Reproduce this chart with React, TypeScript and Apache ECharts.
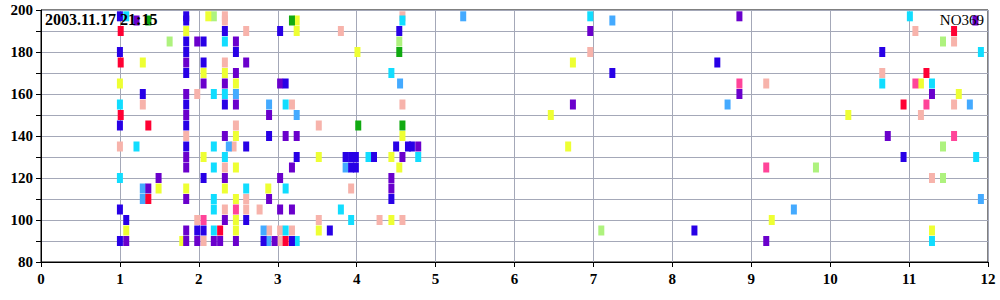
import React, { useEffect, useRef } from "react";
import * as echarts from "echarts";

const xTicks = [0, 1, 2, 3, 4, 5, 6, 7, 8, 9, 10, 11, 12];
const yLabelValues = [80, 100, 120, 140, 160, 180, 200];
const titleLeft = "2003.11.17 21:15";
const titleRight = "NO369";

const blueData = [
  [1.0, 197], [1.0, 180], [1.29, 160], [1.0, 145], [1.84, 197], [1.84, 195], [1.84, 185], [1.84, 180],
  [1.84, 170], [1.84, 155], [1.84, 145], [1.84, 135], [2.06, 185], [2.06, 175], [2.33, 190], [2.33, 155],
  [2.47, 180], [2.6, 135], [2.89, 140], [3.03, 190], [3.1, 165], [3.24, 130], [2.06, 120], [1.0, 105],
  [1.08, 100], [2.6, 100], [1.0, 90], [1.98, 95], [2.06, 95], [2.82, 90], [3.18, 90], [4.54, 190],
  [3.66, 95], [4.5, 135], [4.65, 135], [4.7, 135], [3.86, 130], [3.93, 130], [3.99, 130], [3.93, 125],
  [3.99, 125], [4.22, 130], [4.44, 110], [8.57, 175], [7.24, 170], [8.28, 95], [10.66, 180], [10.93, 130],
];
const purpleData = [
  [1.21, 195], [1.84, 175], [1.84, 160], [1.84, 150], [1.98, 185], [2.06, 165], [2.33, 165], [2.47, 185],
  [2.6, 175], [2.47, 170], [2.47, 155], [2.33, 140], [2.89, 150], [3.03, 165], [3.1, 140], [3.24, 140],
  [1.84, 130], [1.84, 125], [3.18, 125], [2.33, 120], [1.49, 120], [3.03, 120], [1.36, 115], [1.84, 110],
  [2.89, 110], [3.03, 105], [3.18, 105], [2.33, 100], [1.84, 95], [1.84, 90], [1.08, 90], [1.98, 90],
  [2.19, 90], [2.27, 90], [2.47, 90], [2.96, 90], [4.58, 130], [4.44, 120], [4.44, 115], [4.78, 135],
  [6.96, 190], [8.85, 197], [6.74, 155], [8.85, 160], [9.19, 90], [11.29, 160], [10.73, 140], [11.84, 195],
];
const cyanData = [
  [1.08, 197], [1.0, 155], [1.21, 135], [2.19, 160], [2.19, 135], [2.33, 185], [2.33, 160], [3.1, 155],
  [4.44, 170], [2.33, 130], [2.19, 125], [1.0, 120], [2.6, 115], [3.1, 115], [2.19, 110], [2.19, 105],
  [2.19, 95], [3.1, 95], [3.24, 90], [4.15, 130], [4.78, 130], [3.8, 105], [3.93, 100], [4.58, 195],
  [6.96, 197], [11.01, 197], [11.91, 180], [10.66, 165], [11.29, 165], [11.85, 130], [11.29, 90],
];
const lightBlueData = [
  [2.47, 160], [2.38, 135], [2.89, 155], [3.24, 150], [4.55, 165], [1.29, 115], [1.29, 110], [2.82, 95],
  [2.88, 90], [3.86, 125], [5.35, 197], [7.24, 195], [8.7, 155], [9.54, 105], [11.77, 155], [11.91, 110],
];
const salmonData = [
  [1.0, 135], [1.29, 155], [1.84, 140], [1.98, 160], [2.33, 197], [2.33, 195], [2.33, 175], [2.6, 190],
  [2.47, 145], [2.44, 135], [3.18, 155], [3.8, 190], [4.58, 197], [4.58, 155], [3.52, 145], [2.33, 125],
  [2.6, 110], [2.6, 105], [2.33, 105], [2.77, 105], [1.98, 100], [2.06, 90], [2.89, 95], [3.03, 95],
  [3.03, 90], [3.18, 95], [3.93, 115], [3.52, 100], [4.29, 100], [4.58, 100], [6.96, 180], [9.19, 165],
  [11.08, 190], [11.57, 185], [10.66, 170], [11.57, 155], [11.15, 150], [11.29, 120],
];
const redData = [
  [1.01, 190], [1.01, 175], [1.01, 150], [1.36, 145], [1.36, 110], [2.27, 95], [3.1, 90],
  [11.57, 190], [11.22, 170], [10.93, 155],
];
const yellowData = [
  [1.29, 175], [1.0, 165], [1.84, 190], [2.06, 170], [2.12, 197], [2.33, 170], [2.47, 165], [2.47, 140],
  [3.24, 195], [3.24, 190], [4.01, 180], [2.06, 130], [2.47, 125], [1.49, 115], [1.84, 115], [2.33, 115],
  [2.88, 115], [2.47, 110], [2.47, 100], [1.08, 95], [1.79, 90], [2.47, 95], [3.52, 130], [4.44, 130],
  [4.54, 125], [4.58, 140], [4.44, 100], [3.52, 95], [6.74, 175], [6.46, 150], [10.23, 150], [6.68, 135],
  [9.26, 100], [11.15, 165], [11.63, 160], [11.29, 95],
];
const lightGreenData = [
  [1.63, 185], [2.19, 197], [4.54, 185], [9.82, 125], [7.1, 95], [11.43, 185], [11.43, 135], [11.43, 120],
];
const greenData = [
  [1.36, 195], [3.18, 195], [4.54, 180], [4.02, 145], [4.58, 145],
];
const hotPinkData = [
  [2.47, 105], [2.06, 100], [8.85, 165], [9.19, 125], [11.08, 165], [11.22, 155], [11.57, 140],
];

const groups: [string, number[][], string][] = [
  ["salmon", salmonData, "#f7b3ab"],
  ["lightgreen", lightGreenData, "#aef27e"],
  ["yellow", yellowData, "#eeff33"],
  ["cyan", cyanData, "#11ddff"],
  ["lightblue", lightBlueData, "#44aaff"],
  ["green", greenData, "#11aa11"],
  ["hotpink", hotPinkData, "#ff4499"],
  ["red", redData, "#ff0033"],
  ["purple", purpleData, "#6a00cc"],
  ["blue", blueData, "#2800e6"],
];

const FONT = "'Liberation Serif', 'Times New Roman', serif";

export default function App() {
  const ref = useRef<HTMLDivElement>(null);
  useEffect(() => {
    document.body.style.margin = "0";
    const chart = echarts.init(ref.current!, undefined, { renderer: "svg" });
    chart.setOption({
      animation: false,
      backgroundColor: "#fff",
      grid: { left: 41, right: 12, top: 10, bottom: 38, show: true, borderColor: "#000", borderWidth: 1 },
      xAxis: {
        type: "value",
        min: xTicks[0],
        max: xTicks[xTicks.length - 1],
        interval: 1,
        axisLine: { show: true, lineStyle: { color: "#000", width: 1 } },
        axisTick: { show: true, length: 5, lineStyle: { color: "#000" } },
        axisLabel: { color: "#000", fontFamily: FONT, fontWeight: "bold", fontSize: 15, margin: 9 },
        splitLine: { show: true, lineStyle: { color: "#a4a8b8", width: 1 } },
      },
      yAxis: {
        type: "value",
        min: 80,
        max: 200,
        interval: 10,
        axisLine: { show: true, lineStyle: { color: "#000", width: 1 } },
        axisTick: { show: true, length: 5, lineStyle: { color: "#000" } },
        axisLabel: {
          color: "#000",
          fontFamily: FONT,
          fontWeight: "bold",
          fontSize: 15,
          margin: 8,
          formatter: (v: number) => (yLabelValues.includes(v) ? String(v) : ""),
        },
        splitLine: { show: true, lineStyle: { color: "#a4a8b8", width: 1 } },
      },
      graphic: [
        {
          type: "text",
          left: 45,
          top: 11,
          z: 100,
          style: { text: titleLeft, fill: "#000", font: `bold 16px ${FONT}` },
        },
        {
          type: "text",
          right: 16,
          top: 12,
          z: 100,
          style: { text: titleRight, fill: "#000", font: `15px ${FONT}` },
        },
      ],
      series: groups.map(([name, data, color]) => ({
        name,
        type: "scatter",
        data,
        symbol: "rect",
        symbolSize: [6, 10],
        itemStyle: { color, opacity: 1 },
        emphasis: { disabled: true },
        clip: false,
      })),
    });
    return () => chart.dispose();
  }, []);
  return <div ref={ref} style={{ width: 1000, height: 300 }} />;
}
